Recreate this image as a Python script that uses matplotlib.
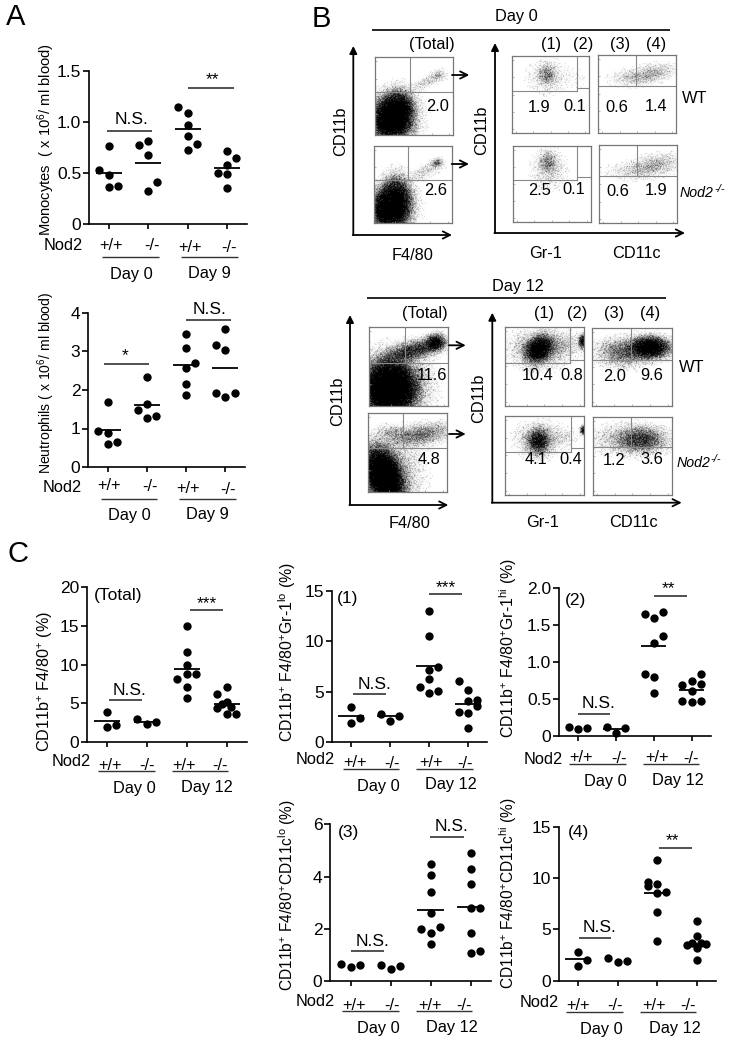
import numpy as np
import matplotlib
matplotlib.use('Agg')
import matplotlib.pyplot as plt

W, H = 735, 1045

plt.rcParams['font.family'] = ['Liberation Sans', 'DejaVu Sans']
plt.rcParams['mathtext.fontset'] = 'custom'
plt.rcParams['mathtext.rm'] = 'Liberation Sans'
plt.rcParams['mathtext.it'] = 'Liberation Sans:italic'
plt.rcParams['mathtext.default'] = 'regular'

# Dot plots: per group values, slot = sideways place of the dot in its column
mono_vals = [[0.76, 0.53, 0.48, 0.36, 0.37], [0.77, 0.81, 0.68, 0.41, 0.32],
             [1.15, 1.09, 0.97, 0.86, 0.78, 0.73], [0.72, 0.65, 0.58, 0.50, 0.49, 0.35]]
mono_slots = [[0, -1, 0, 0, 1], [-1, 0, 0, 1, 0], [-1, 0, 0, 0, 1, 0], [0, 1, 0, -1, 0, 0]]
mono_means = [0.50, 0.60, 0.93, 0.55]

neut_vals = [[1.70, 0.93, 0.89, 0.61, 0.64], [2.33, 1.64, 1.47, 1.28, 1.33],
             [3.45, 3.10, 2.71, 2.56, 2.16, 1.87], [3.58, 3.17, 3.05, 1.92, 1.83, 1.92]]
neut_slots = [[0, -1, 0, 0, 1], [0, 0, -1, 0, 1], [0, 0, 1, 0, 0, 0], [0, -1, 0, -1, 0, 1]]
neut_means = [0.95, 1.61, 2.65, 2.58]

total_vals = [[3.84, 2.0, 2.2], [3.0, 2.3, 2.55],
              [15.0, 11.6, 9.9, 8.2, 8.75, 8.8, 7.05, 5.7],
              [7.15, 6.25, 5.2, 4.4, 4.85, 4.5, 3.6, 3.6]]
total_slots = [[0, 0, 1], [-1, 0, 1], [0, 0, 0, -1, 0, 1, 0, 0], [0, -1, 0, -1, -0.5, 0.5, 0, 1]]
total_means = [2.67, 2.6, 9.4, 4.9]

gate1_vals = [[3.47, 1.92, 2.35], [2.78, 2.1, 2.54],
              [13.0, 10.5, 7.17, 7.43, 6.2, 5.45, 5.08, 4.85],
              [6.08, 5.15, 4.1, 4.2, 3.55, 2.97, 2.87, 1.35]]
gate1_slots = [[0, 0, 1], [-1, 0, 1], [0, 0, 0, 1, 0, -1, 1, 0], [-1, 0, 0, 1, 1, -1, 0, 0]]
gate1_means = [2.6, 2.55, 7.5, 3.8]

gate2_vals = [[0.117, 0.10, 0.11], [0.126, 0.11, 0.045],
              [1.645, 1.595, 1.675, 1.35, 1.26, 0.83, 0.79, 0.58],
              [0.83, 0.69, 0.74, 0.70, 0.61, 0.47, 0.46, 0.47]]
gate2_slots = [[-1, 0, 1], [-1, 1, 0], [-1, 0, 1, 1, 0, -1, 0, 0], [1, -1, 0, 1, 0, -1, 0, 1]]
gate2_means = [None, 0.09, 1.21, 0.62]

gate3_vals = [[0.66, 0.54, 0.60], [0.61, 0.47, 0.56],
              [4.49, 4.05, 3.41, 2.6, 1.98, 1.85, 2.07, 1.43],
              [4.9, 4.3, 3.7, 2.78, 2.81, 1.85, 1.09, 1.15]]
gate3_slots = [[-1, 0, 1], [-1, 0, 1], [0, 0, 0, 0, -1, 0, 1, 0], [0, 0, 0, 0, 1, 0, 0, 1]]
gate3_means = [None, None, 2.73, 2.83]

gate4_vals = [[2.8, 2.0, 1.43], [2.2, 1.8, 1.9],
              [11.75, 9.6, 9.25, 9.45, 8.55, 8.65, 6.65, 3.85],
              [5.85, 4.4, 3.5, 3.65, 3.15, 3.65, 3.55, 2.0]]
gate4_slots = [[0, 1, 0], [-1, 0, 1], [0, -1, -1, 0, 0, 1, 0, 0], [0, 0, -1, -0.5, 0, 0.5, 1, 0]]
gate4_means = [2.08, None, 8.5, 3.6]

# Flow plots: density clouds as (u, v, spread u, spread v, tilt, weight)
d0_total_wt = [(.16, .20, .09, .13, 0, 7), (.30, .30, .09, .12, 0, 7), (.30, .10, .10, .07, 0, 1.5),
               (.30, .25, .17, .17, 0, .3), (.66, .68, .14, .04, 20, .2), (.80, .77, .05, .035, 20, .35)]
d0_total_ko = [(.13, .18, .07, .12, 0, 6), (.28, .25, .09, .15, 0, 7), (.25, .20, .16, .16, 0, .35),
               (.65, .66, .14, .05, 25, .2), (.80, .77, .04, .03, 20, .9)]
d0_gr1_wt = [(.45, .75, .06, .07, 0, .6), (.45, .72, .14, .12, 0, .16), (.85, .70, .10, .10, 0, .03)]
d0_cd11c_wt = [(.68, .76, .16, .06, 10, .4), (.40, .70, .14, .06, 0, .18)]
d0_gr1_ko = [(.45, .78, .06, .07, 0, .6), (.46, .68, .12, .14, 0, .2)]
d0_cd11c_ko = [(.70, .74, .17, .07, 10, .4), (.40, .66, .18, .06, 0, .16)]
d12_total_wt = [(.26, .22, .15, .16, 0, 12), (.32, .28, .24, .22, 0, .5),
                (.55, .70, .20, .06, 15, 1.8), (.83, .80, .06, .05, 20, 4)]
d12_total_ko = [(.20, .20, .10, .17, 20, 12), (.30, .25, .20, .22, 0, .4),
                (.65, .72, .22, .07, 10, .8), (.30, .75, .10, .05, 0, .35)]
d12_gr1_wt = [(.43, .72, .09, .07, 40, 6), (.45, .72, .19, .12, 0, .6),
              (.98, .82, .025, .045, 0, 3), (.75, .78, .12, .08, 0, .2)]
d12_cd11c_wt = [(.72, .74, .12, .065, 0, 6), (.40, .68, .17, .09, 0, 1.0)]
d12_gr1_ko = [(.42, .68, .07, .08, 0, 2.5), (.42, .70, .15, .11, 0, .4),
              (.98, .82, .02, .03, 0, 3), (.75, .73, .10, .07, 0, .12)]
d12_cd11c_ko = [(.60, .70, .15, .08, 0, 1.4), (.45, .70, .25, .10, 0, .35)]

fig = plt.figure(figsize=(W / 100, H / 100), dpi=100)
over = fig.add_axes([0, 0, 1, 1], zorder=5)
over.set_xlim(0, W)
over.set_ylim(H, 0)
over.axis('off')
over.patch.set_alpha(0)


def put(x, y, s, size=11.8, **kw):
    kw.setdefault('ha', 'center')
    kw.setdefault('va', 'center')
    over.text(x, y, s, fontsize=size, **kw)


def seg(x0, y0, x1, y1, lw=1.0, color='#222222'):
    over.plot([x0, x1], [y0, y1], color=color, lw=lw, solid_capstyle='butt')


def arrow(x0, y0, x1, y1, style='->', scale=13, lw=1.3):
    over.annotate('', xy=(x1, y1), xytext=(x0, y0),
                  arrowprops=dict(arrowstyle=style, lw=lw, color='black', fc='black',
                                  shrinkA=0, shrinkB=0, mutation_scale=scale))


def dot_panel(x_axis, y_top, y_bot, x_right, x_ticks, ymax, yticks, ylabels, vals, slots, means):
    ax = fig.add_axes([x_axis / W, 1 - y_bot / H, (x_right - x_axis) / W, (y_bot - y_top) / H])
    step = (x_ticks[3] - x_ticks[0]) / 3
    ax.set_xlim((x_axis - x_ticks[0]) / step, (x_right - x_ticks[0]) / step)
    ax.set_ylim(0, ymax)
    for i in range(4):
        xs = [i + s * 9.3 / step for s in slots[i]]
        ax.scatter(xs, vals[i], s=36, color='black', linewidths=0, clip_on=False, zorder=3)
        if means[i] is not None:
            ax.plot([i - 0.33, i + 0.33], [means[i], means[i]], color='black', lw=1.3, zorder=4,
                    clip_on=False, solid_capstyle='butt')
    for side in ['top', 'right']:
        ax.spines[side].set_visible(False)
    ax.spines['left'].set_linewidth(1.2)
    ax.spines['bottom'].set_linewidth(1.2)
    ax.set_xticks(range(4))
    ax.set_xticklabels([])
    ax.set_yticks(yticks)
    ax.set_yticklabels(ylabels, fontsize=12.5)
    ax.tick_params(axis='y', length=4, width=1.2, pad=1.5)
    ax.tick_params(axis='x', length=3.5, width=1.2)
    ax.patch.set_alpha(0)
    return ax


def genotype_row(nod, geno_x, geno_y, line_x, line_y, day_x, day_y):
    put(nod[0], nod[1], 'Nod2')
    for x, y, s in zip(geno_x, geno_y, ['+/+', '-/-', '+/+', '-/-']):
        put(x, y, s)
    for x0, x1 in line_x:
        seg(x0, line_y, x1, line_y, lw=1.0, color='#333333')
    for x, y, s in zip(day_x, day_y, day_labels):
        put(x, y, s)


def sig(x0, x1, y, label, tx, ty, size=12.5):
    seg(x0, y, x1, y, lw=1.1)
    put(tx, ty, label, size=size)


def facs(box, blobs, h, v, h2=None):
    x0, x1, y0, y1 = box
    ax = fig.add_axes([x0 / W, 1 - y1 / H, (x1 - x0) / W, (y1 - y0) / H])
    nx, ny = int(round(x1 - x0)) * 2, int(round(y1 - y0)) * 2
    uu, vv = np.meshgrid((np.arange(nx) + 0.5) / nx, (np.arange(ny) + 0.5) / ny)
    dens = np.zeros_like(uu)
    for cu, cv, su, sv, tilt, amp in blobs:
        t = np.radians(tilt)
        du, dv = uu - cu, vv - cv
        a = du * np.cos(t) + dv * np.sin(t)
        b = -du * np.sin(t) + dv * np.cos(t)
        dens += amp * np.exp(-0.5 * ((a / su) ** 2 + (b / sv) ** 2))
    prob = 1 - np.exp(-dens)
    prob[prob < 0.015] = 0
    # fixed grain texture so the clouds do not look airbrushed
    ii, jj = np.meshgrid(np.arange(nx), np.arange(ny))
    grain = (np.sin(ii * 12.9898 + jj * 78.233) * 43758.5453) % 1.0
    img = 0.4 * prob + 0.6 * (prob > grain)
    ax.imshow(img, origin='lower', extent=(0, 1, 0, 1), cmap='gray_r', vmin=0, vmax=1,
              aspect='auto', interpolation='antialiased')
    ax.set_xlim(0, 1)
    ax.set_ylim(0, 1)
    ax.set_xticks(np.linspace(0.05, 0.95, 5))
    ax.set_yticks(np.linspace(0.05, 0.95, 5))
    ax.set_xticklabels([])
    ax.set_yticklabels([])
    ax.tick_params(direction='in', length=1.5, width=0.5, color='#999999')
    for sp in ax.spines.values():
        sp.set_linewidth(0.9)
        sp.set_color('#777777')
    gate = dict(color='#888888', lw=0.8)
    hu = 1 - (h - y0) / (y1 - y0)
    vu = (v - x0) / (x1 - x0)
    ax.plot([vu, vu], [hu, 1], **gate)
    if h2 is None:
        ax.plot([0, 1], [hu, hu], **gate)
    else:
        h2u = 1 - (h2 - y0) / (y1 - y0)
        ax.plot([0, vu], [hu, hu], **gate)
        ax.plot([vu, 1], [h2u, h2u], **gate)


def ko_label(x, y):
    put(x, y, 'Nod2', size=10.2, ha='left', style='italic')
    put(x + 34, y - 4, '-/-', size=8, ha='left', style='italic')


# Panel A
dot_panel(89, 71, 224, 247, [108.7, 148, 187, 227], 1.5, [0, 0.5, 1.0, 1.5], ['0', '0.5', '1.0', '1.5'],
          mono_vals, mono_slots, mono_means)
dot_panel(88, 313, 467, 245, [107.7, 147, 186, 225.3], 4, [0, 1, 2, 3, 4], ['0', '1', '2', '3', '4'],
          neut_vals, neut_slots, neut_means)

# Panel C
dot_panel(86.7, 587.3, 742, 246.7, [106.7, 146.3, 187, 226.7], 20, [0, 5, 10, 15, 20], ['0', '5', '10', '15', '20'],
          total_vals, total_slots, total_means)
dot_panel(331.7, 590.7, 742, 487.3, [351, 390.3, 429, 468], 15, [0, 5, 10, 15], ['0', '5', '10', '15'],
          gate1_vals, gate1_slots, gate1_means)
dot_panel(559, 587.7, 736, 710.7, [578, 615.7, 653.7, 691.7], 2.0, [0, 0.5, 1.0, 1.5, 2.0], ['0', '0.5', '1.0', '1.5', '2.0'],
          gate2_vals, gate2_slots, gate2_means)
dot_panel(330, 824.3, 981, 490.7, [350.7, 391, 430.7, 470.7], 6, [0, 2, 4, 6], ['0', '2', '4', '6'],
          gate3_vals, gate3_slots, gate3_means)
dot_panel(558.7, 826.7, 980.7, 716, [578, 617.7, 657, 696.7], 15, [0, 5, 10, 15], ['0', '5', '10', '15'],
          gate4_vals, gate4_slots, gate4_means)

# Panel letters
put(16, 17, 'A', size=21)
put(321, 19, 'B', size=21)
put(17.7, 554, 'C', size=21)

# Text around the dot plots
put(46.7, 140, 'Monocytes  ( x 10$^{6}$/ ml blood)', size=10.6, rotation=90)
put(46.7, 383, 'Neutrophils ( x 10$^{6}$/ ml blood)', size=10.1, rotation=90)
put(45, 682, 'CD11b$^{+}$ F4/80$^{+}$ (%)', size=11.6, rotation=90)
put(287, 652, 'CD11b$^{+}$ F4/80$^{+}$Gr-1$^{lo}$ (%)', size=11.4, rotation=90)
put(508, 648, 'CD11b$^{+}$ F4/80$^{+}$Gr-1$^{hi}$ (%)', size=11.4, rotation=90)
put(287, 895, 'CD11b$^{+}$ F4/80$^{+}$CD11c$^{lo}$ (%)', size=11.2, rotation=90)
put(508, 893, 'CD11b$^{+}$ F4/80$^{+}$CD11c$^{hi}$ (%)', size=11.2, rotation=90)

put(117.7, 595.7, '(Total)', size=12.5)
put(347.3, 599, '(1)', size=12.5)
put(576, 600.3, '(2)', size=12.5)
put(349, 832.3, '(3)', size=12.5)
put(579, 832.3, '(4)', size=12.5)

sig(106.7, 152.3, 130.7, 'N.S.', 131.7, 119.3)
sig(188.3, 234, 88.3, '**', 212.3, 80)
sig(185.7, 230.7, 320, 'N.S.', 210, 309)
sig(103.7, 149, 364.3, '*', 125.3, 356)
sig(108.7, 142, 699.7, 'N.S.', 130, 690.7)
sig(190, 223, 610.3, '***', 206.7, 604)
sig(353.3, 386, 694.3, 'N.S.', 374.3, 684.3)
sig(429, 462.3, 593.7, '***', 445.7, 587.5)
sig(577.7, 610.3, 713.7, 'N.S.', 598.7, 704)
sig(654.3, 687.3, 595.7, '**', 668, 589)
sig(430.3, 463.7, 837.3, 'N.S.', 451.7, 826.7)
sig(351, 384.3, 950.7, 'N.S.', 372.7, 941)
sig(578.7, 611.3, 937.7, 'N.S.', 600, 927.7)
sig(659, 692, 847.7, '**', 672.7, 841)

day_labels = ['Day 0', 'Day 9']
genotype_row((63.3, 246), [111.3, 152, 190, 229.3], [245, 245.7, 247, 247.7],
             [(102.3, 159), (181, 237.7)], 257, [131, 209], [274, 273.3])
genotype_row((62.3, 487.3), [109.3, 150, 188.3, 227.7], [486, 486.7, 488.3, 489],
             [(101, 157.3), (179.3, 235.7)], 498.7, [129.3, 207], [515.7, 515])
day_labels = ['Day 0', 'Day 12']
genotype_row((71, 761.7), [109.7, 147.3, 184, 220], [765.3, 766, 765.3, 766],
             [(98.3, 155), (172, 228.3)], 771.3, [134, 206.7], [788, 787.7])
genotype_row((315.7, 760), [354.7, 392.3, 430.7, 465], [762.7, 763.3, 762.7, 763.3],
             [(342.7, 399.3), (416.3, 473)], 769.3, [378.7, 451], [786, 785])
genotype_row((543.7, 759.3), [581, 618.7, 657.3, 691.3], [758, 758.7, 758, 758.7],
             [(569.3, 625.7), (642.7, 699.3)], 764.3, [605, 678], [781.7, 780.7])
genotype_row((315, 1001.7), [354.3, 391.7, 430.3, 464.3], [1005, 1005.7, 1005, 1005.7],
             [(342.3, 399), (416, 472.3)], 1011, [378.3, 451.7], [1029, 1027.7])
genotype_row((539, 1002.3), [578.3, 615.3, 654, 687.7], [1005, 1005.7, 1005, 1005.7],
             [(566, 622.7), (639.7, 696)], 1011.7, [601.7, 675], [1029.3, 1028.3])

# Panel B, day 0
facs((375, 453.3, 57.3, 135), d0_total_wt, 92, 410)
facs((373.7, 452, 145.7, 223.3), d0_total_ko, 180.3, 407.7)
facs((512, 589.3, 55.7, 133.3), d0_gr1_wt, 91, 576.7, h2=88)
facs((598.3, 676, 55, 132.7), d0_cd11c_wt, 86, 636.3)
facs((512.7, 590.7, 145.7, 222.3), d0_gr1_ko, 180.3, 577.3, h2=177.3)
facs((599, 677.3, 145.3, 223), d0_cd11c_ko, 176.3, 637)

# Panel B, day 12
facs((369.3, 448.3, 327.3, 406), d12_total_wt, 362.7, 404.7)
facs((367.7, 446.7, 413.3, 491.7), d12_total_ko, 448.3, 402.7)
facs((505, 583.7, 327.3, 405.7), d12_gr1_wt, 363, 570.3, h2=359.7)
facs((592.3, 671.7, 327.7, 406), d12_cd11c_wt, 359.7, 631)
facs((505, 584.3, 416, 495), d12_gr1_ko, 451.7, 571, h2=448.3)
facs((592.7, 672, 416.7, 495), d12_cd11c_ko, 447.3, 631.3)

# Day 0 annotations
seg(371.7, 30, 670, 30, lw=1.2, color='black')
put(516, 17, 'Day 0')
arrow(353.3, 235, 353.3, 46, style='-|>', scale=11)
arrow(352.7, 235, 452, 235)
arrow(495, 233, 495, 43, style='-|>', scale=11)
arrow(494.4, 233, 685, 233)
arrow(452, 75, 469.3, 75)
arrow(451.7, 164, 469, 164)
for x, s in zip([431.7, 550.7, 583.3, 620.3, 656], ['(Total)', '(1)', '(2)', '(3)', '(4)']):
    put(x, 45, s)
for x, y, s in zip([437.3, 436, 539, 574.3, 617.3, 655.7, 539.3, 573.3, 618.3, 656.3],
                   [106.7, 190.7, 107.3, 106.7, 107.3, 106.7, 190.7, 190, 191.3, 190.7],
                   ['2.0', '2.6', '1.9', '0.1', '0.6', '1.4', '2.5', '0.1', '0.6', '1.9']):
    put(x, y, s)
put(695, 98.3, 'WT')
ko_label(680, 193.3)
put(340.7, 131.7, 'CD11b', rotation=90)
put(481.7, 130, 'CD11b', rotation=90)
put(412.3, 255, 'F4/80')
put(546, 253.3, 'Gr-1')
put(636.7, 253.3, 'CD11c')

# Day 12 annotations
seg(366.7, 297.7, 665.7, 297.7, lw=1.2, color='black')
put(517.7, 286, 'Day 12')
arrow(350, 505, 350, 315, style='-|>', scale=11)
arrow(349.4, 505, 448.3, 505)
arrow(492.3, 502.7, 492.3, 312.7, style='-|>', scale=11)
arrow(491.7, 502.7, 681.7, 502.7)
arrow(449, 345.3, 465.7, 345.3)
arrow(449, 434, 465.7, 434)
for x, s in zip([425, 544.3, 577, 614, 650], ['(Total)', '(1)', '(2)', '(3)', '(4)']):
    put(x, 313.3, s)
for x, y, s in zip([431.7, 429.3, 537.3, 571.7, 614.3, 652, 536, 570.7, 614, 651.3],
                   [376, 460, 376, 375.7, 376.7, 376, 460, 460, 460.7, 460],
                   ['11.6', '4.8', '10.4', '0.8', '2.0', '9.6', '4.1', '0.4', '1.2', '3.6']):
    put(x, y, s)
put(691.7, 367.7, 'WT')
ko_label(676.7, 463.3)
put(337.3, 401.7, 'CD11b', rotation=90)
put(478.3, 398.3, 'CD11b', rotation=90)
put(409.3, 523.3, 'F4/80')
put(542.7, 522.7, 'Gr-1')
put(633.3, 522.7, 'CD11c')

fig.savefig('out.png', dpi=100)
